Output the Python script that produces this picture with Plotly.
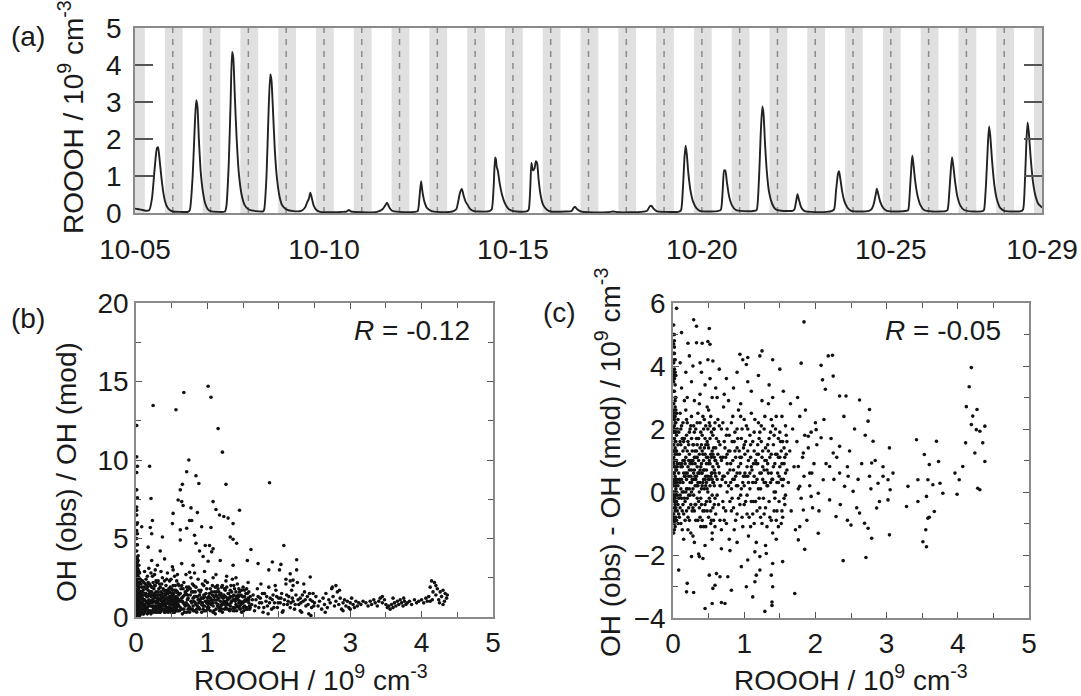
import plotly.graph_objects as go

# ---------------- data ----------------
# (a) ROOOH time series: days since 10-05 00:00, values in 1e9 cm-3
a_t = [0.00, 0.10, 0.20, 0.30, 0.38, 0.45, 0.52, 0.58, 0.61, 0.65, 0.70, 0.75, 0.80, 0.86, 0.92, 1.00, 1.20, 1.40,
       1.45, 1.52, 1.58, 1.62, 1.65, 1.69, 1.74, 1.80, 1.86, 1.93, 2.00, 2.20, 2.38,
       2.42, 2.48, 2.53, 2.57, 2.60, 2.64, 2.69, 2.75, 2.82, 2.90, 3.00, 3.20, 3.40,
       3.42, 3.48, 3.53, 3.58, 3.61, 3.65, 3.70, 3.76, 3.83, 3.90, 4.00, 4.20, 4.40,
       4.50, 4.56, 4.60, 4.64, 4.68, 4.73, 4.80, 4.90, 5.20, 5.50,
       5.60, 5.66, 5.72, 6.00, 6.40, 6.55,
       6.62, 6.67, 6.73, 6.80, 7.00, 7.40,
       7.48, 7.53, 7.57, 7.61, 7.66, 7.73, 7.85, 8.00, 8.40,
       8.50, 8.56, 8.60, 8.65, 8.70, 8.75, 8.80, 8.86, 8.95, 9.10, 9.38,
       9.44, 9.49, 9.53, 9.55, 9.57, 9.60, 9.65, 9.71, 9.78, 9.86, 9.95, 10.10, 10.38,
       10.42, 10.46, 10.49, 10.53, 10.57, 10.61, 10.64, 10.68, 10.73, 10.80, 10.90, 11.00, 11.40,
       11.55, 11.60, 11.64, 11.70, 11.80, 12.00, 12.50, 12.66, 12.80, 13.40,
       13.55, 13.62, 13.66, 13.72, 13.80, 14.00, 14.40,
       14.45, 14.50, 14.54, 14.57, 14.60, 14.64, 14.70, 14.77, 14.85, 14.95, 15.20, 15.42,
       15.50, 15.55, 15.59, 15.62, 15.66, 15.72, 15.80, 15.90, 16.10, 16.40,
       16.45, 16.51, 16.56, 16.60, 16.63, 16.67, 16.72, 16.78, 16.86, 16.95, 17.10, 17.40,
       17.45, 17.50, 17.53, 17.57, 17.63, 17.72, 17.90, 18.30, 18.45,
       18.50, 18.55, 18.60, 18.63, 18.66, 18.71, 18.77, 18.85, 18.95, 19.20, 19.42,
       19.50, 19.55, 19.60, 19.63, 19.67, 19.72, 19.80, 19.90, 20.20, 20.42,
       20.46, 20.51, 20.55, 20.57, 20.60, 20.64, 20.70, 20.78, 20.88, 21.10, 21.45,
       21.50, 21.55, 21.59, 21.62, 21.65, 21.70, 21.76, 21.84, 21.94, 22.20, 22.45,
       22.47, 22.52, 22.57, 22.60, 22.63, 22.68, 22.74, 22.81, 22.90, 23.00, 23.30, 23.45,
       23.50, 23.55, 23.59, 23.62, 23.65, 23.70, 23.76, 23.83, 23.90, 24.00]
a_v = [0.12, 0.10, 0.08, 0.06, 0.08, 0.40, 1.20, 1.75, 1.78, 1.45, 0.95, 0.55, 0.30, 0.15, 0.08, 0.04, 0.03, 0.03,
       0.08, 0.90, 2.30, 3.05, 2.90, 2.00, 1.10, 0.55, 0.25, 0.10, 0.05, 0.03, 0.04,
       0.20, 1.30, 3.00, 4.35, 4.20, 3.20, 2.00, 1.05, 0.50, 0.22, 0.10, 0.05, 0.05,
       0.10, 1.00, 2.60, 3.75, 3.60, 2.80, 1.70, 0.90, 0.42, 0.20, 0.10, 0.05, 0.06,
       0.15, 0.30, 0.38, 0.55, 0.40, 0.20, 0.08, 0.03, 0.02, 0.03,
       0.04, 0.08, 0.04, 0.02, 0.03, 0.10,
       0.20, 0.28, 0.15, 0.06, 0.03, 0.03,
       0.05, 0.45, 0.86, 0.55, 0.30, 0.13, 0.05, 0.03, 0.04,
       0.10, 0.35, 0.55, 0.65, 0.45, 0.30, 0.22, 0.12, 0.06, 0.04, 0.05,
       0.10, 0.70, 1.50, 1.45, 1.25, 1.15, 0.80, 0.50, 0.28, 0.14, 0.07, 0.04, 0.05,
       0.10, 0.70, 1.35, 1.15, 1.20, 1.40, 1.35, 0.90, 0.50, 0.22, 0.09, 0.04, 0.04,
       0.05, 0.13, 0.17, 0.10, 0.04, 0.02, 0.02, 0.04, 0.02, 0.03,
       0.06, 0.18, 0.20, 0.12, 0.05, 0.03, 0.04,
       0.08, 0.70, 1.50, 1.82, 1.60, 1.10, 0.60, 0.30, 0.14, 0.06, 0.04, 0.05,
       0.08, 0.60, 1.15, 1.15, 0.85, 0.45, 0.20, 0.08, 0.05, 0.06,
       0.08, 0.90, 2.20, 2.88, 2.70, 1.90, 1.10, 0.55, 0.25, 0.10, 0.06, 0.06,
       0.10, 0.35, 0.51, 0.35, 0.15, 0.05, 0.03, 0.03, 0.06,
       0.10, 0.60, 1.05, 1.13, 0.95, 0.60, 0.32, 0.15, 0.06, 0.04, 0.06,
       0.12, 0.25, 0.50, 0.66, 0.50, 0.30, 0.13, 0.06, 0.04, 0.06,
       0.08, 0.70, 1.35, 1.55, 1.30, 0.90, 0.50, 0.22, 0.08, 0.04, 0.05,
       0.08, 0.60, 1.20, 1.51, 1.30, 0.85, 0.45, 0.20, 0.08, 0.04, 0.06,
       0.10, 0.80, 1.90, 2.34, 2.10, 1.40, 0.75, 0.35, 0.13, 0.06, 0.04, 0.05,
       0.10, 0.90, 2.00, 2.45, 2.20, 1.50, 0.85, 0.45, 0.25, 0.15]

a_tickvals = [0, 5, 10, 15, 20, 24]
a_ticktext = ["10-05", "10-10", "10-15", "10-20", "10-25", "10-29"]
n_days = 24
sunset_day_frac = 0.79   # ~19:00
sunrise_day_frac = 0.26  # ~06:15

# (b) OH(obs)/OH(mod) vs ROOOH
b_points = [
    # near-zero ROOOH strip
    (0.01,0.2),(0.02,0.5),(0.01,0.8),(0.03,1.1),(0.02,1.4),(0.01,1.7),(0.02,2.0),(0.01,2.3),(0.03,2.6),(0.02,2.9),
    (0.01,3.2),(0.02,3.5),(0.01,3.8),(0.03,0.3),(0.04,0.7),(0.03,0.9),(0.04,1.3),(0.05,1.6),(0.04,1.9),(0.03,2.2),
    (0.04,2.5),(0.05,0.4),(0.02,0.1),(0.04,0.15),(0.05,1.0),(0.01,1.2),(0.02,1.0),(0.03,1.8),(0.01,2.6),(0.02,3.1),
    (0.01,4.2),(0.02,4.6),(0.01,5.0),(0.01,5.5),(0.02,6.0),(0.01,6.5),(0.01,7.0),(0.02,7.6),(0.01,8.1),(0.01,9.2),
    (0.02,9.6),(0.01,10.2),(0.01,12.2),(0.03,3.9),(0.04,3.3),(0.05,2.8),(0.06,0.6),(0.06,1.5),(0.07,2.1),(0.06,0.2),
    (0.02,0.7),(0.03,1.5),(0.01,0.4),(0.02,2.4),(0.03,0.05),(0.05,0.1),(0.01,1.0),(0.04,2.9),(0.02,3.7),(0.01,6.8),
    (0.01,0.3),(0.02,1.2),(0.03,2.0),(0.01,2.9),(0.02,0.9),(0.04,0.5),(0.03,1.3),(0.05,2.2),(0.02,1.6),(0.01,3.4),
    (0.03,0.6),(0.04,1.1),(0.02,2.7),(0.05,0.8),(0.03,3.0),(0.06,1.3),(0.07,0.9),(0.06,2.4),(0.07,0.3),(0.08,1.4),
    (0.01,0.6),(0.02,1.8),(0.03,0.4),(0.01,1.4),(0.04,1.7),(0.02,2.2),(0.03,2.8),(0.01,2.0),(0.04,0.3),(0.05,1.3),
    (0.02,0.3),(0.03,1.0),(0.01,3.0),(0.04,2.1),(0.05,0.6),(0.02,3.3),(0.03,3.6),(0.01,4.6),(0.02,5.3),(0.01,5.9),
    # dense cloud 0.05-0.6
    (0.08,0.5),(0.09,1.2),(0.1,0.8),(0.11,1.9),(0.12,0.3),(0.13,1.5),(0.14,2.4),(0.15,0.9),(0.16,0.6),(0.17,1.7),
    (0.18,1.1),(0.19,2.1),(0.2,0.4),(0.21,1.3),(0.22,0.7),(0.23,2.6),(0.24,1.0),(0.25,1.8),(0.26,0.5),(0.27,1.4),
    (0.28,0.9),(0.29,2.2),(0.3,0.6),(0.31,1.6),(0.32,1.1),(0.33,0.3),(0.34,1.9),(0.35,0.8),(0.36,1.3),(0.37,2.5),
    (0.38,0.5),(0.39,1.0),(0.4,1.7),(0.41,0.7),(0.42,2.0),(0.43,1.2),(0.44,0.4),(0.45,1.5),(0.46,0.9),(0.47,2.3),
    (0.48,0.6),(0.49,1.1),(0.5,1.8),(0.51,0.3),(0.52,1.4),(0.53,0.8),(0.54,2.6),(0.55,1.0),(0.56,0.5),(0.57,1.6),
    (0.58,1.2),(0.59,2.1),(0.6,0.7),
    (0.07,1.6),(0.09,2.3),(0.1,0.2),(0.12,1.1),(0.13,0.7),(0.15,2.0),(0.16,1.3),(0.18,0.4),(0.19,0.9),(0.21,2.8),
    (0.22,1.6),(0.24,0.6),(0.25,1.2),(0.27,2.0),(0.28,0.3),(0.3,1.4),(0.31,0.9),(0.33,2.1),(0.34,0.6),(0.36,1.0),
    (0.37,1.5),(0.39,0.4),(0.4,2.3),(0.42,0.8),(0.43,1.6),(0.45,0.6),(0.46,1.2),(0.48,1.9),(0.49,0.5),(0.51,1.3),
    (0.52,0.9),(0.54,1.7),(0.55,0.4),(0.57,2.3),(0.58,0.8),(0.6,1.4),
    (0.08,0.9),(0.11,0.5),(0.14,1.0),(0.17,0.3),(0.2,1.0),(0.23,0.4),(0.26,1.0),(0.29,0.7),(0.32,0.5),(0.35,1.2),
    (0.38,0.8),(0.41,1.1),(0.44,0.9),(0.47,0.5),(0.5,0.8),(0.53,1.1),(0.56,0.9),(0.59,0.4),
    (0.12,2.9),(0.18,3.1),(0.26,2.7),(0.35,2.9),(0.44,2.8),(0.52,3.0),(0.58,2.7),(0.16,2.6),(0.3,3.3),
    (0.09,0.3),(0.1,1.4),(0.12,0.6),(0.14,1.8),(0.17,1.0),(0.2,1.6),(0.23,1.1),(0.26,1.5),(0.29,1.2),(0.32,0.8),
    (0.34,1.4),(0.37,1.0),(0.4,0.5),(0.43,0.6),(0.47,1.3),(0.5,1.1),(0.53,0.5),(0.56,1.3),(0.59,1.0),(0.11,1.1),
    (0.06,1.1),(0.07,0.4),(0.08,1.9),(0.09,0.7),(0.1,1.7),(0.11,0.2),(0.12,1.4),(0.13,2.1),(0.14,0.6),(0.15,1.3),
    (0.16,0.2),(0.17,2.2),(0.18,0.8),(0.19,1.5),(0.2,0.7),(0.21,0.2),(0.22,1.9),(0.23,0.9),(0.24,1.4),(0.25,0.3),
    (0.26,2.0),(0.27,0.7),(0.28,1.6),(0.29,0.4),(0.3,1.0),(0.31,2.3),(0.32,1.4),(0.33,0.8),(0.34,0.3),(0.35,1.6),
    (0.36,0.5),(0.37,0.9),(0.38,1.8),(0.39,1.3),(0.4,0.3),(0.41,1.5),(0.42,0.5),(0.43,2.4),(0.44,1.2),(0.45,0.3),
    (0.46,1.8),(0.47,0.8),(0.48,1.3),(0.49,2.4),(0.5,0.4),(0.51,1.7),(0.52,0.6),(0.53,1.5),(0.54,0.3),(0.55,2.0),
    (0.56,1.1),(0.57,0.6),(0.58,1.6),(0.59,0.8),(0.6,2.0),
    (0.06,0.5),(0.07,1.3),(0.08,0.2),(0.09,1.6),(0.1,1.0),(0.11,2.2),(0.12,0.8),(0.13,0.4),(0.14,1.5),(0.15,0.5),
    (0.16,1.9),(0.17,0.7),(0.18,1.4),(0.19,0.3),(0.2,2.0),(0.21,1.0),(0.22,0.3),(0.23,1.4),(0.24,2.2),(0.25,0.7),
    (0.26,1.3),(0.27,0.5),(0.28,2.3),(0.29,1.0),(0.3,0.3),(0.31,1.2),(0.32,1.8),(0.33,0.6),(0.34,1.1),(0.35,0.4),
    (0.36,2.1),(0.37,0.7),(0.38,1.2),(0.39,1.7),(0.4,0.9),(0.41,0.3),(0.42,1.4),(0.43,0.9),(0.44,1.7),(0.45,1.0),
    (0.46,0.4),(0.47,1.6),(0.48,1.0),(0.49,0.3),(0.5,1.5),(0.51,0.9),(0.52,2.0),(0.53,0.3),(0.54,1.2),(0.55,0.7),
    (0.56,1.7),(0.57,1.0),(0.58,0.4),(0.59,1.5),(0.6,1.1),
    # 0.6-1.6
    (0.62,1.0),(0.63,1.8),(0.64,0.5),(0.66,1.3),(0.67,2.2),(0.68,0.8),(0.7,1.5),(0.71,0.3),(0.72,1.1),(0.74,1.9),
    (0.75,0.6),(0.76,1.4),(0.78,0.9),(0.79,2.1),(0.8,1.2),(0.82,0.4),(0.83,1.6),(0.84,0.8),(0.86,1.3),(0.87,2.4),
    (0.88,0.6),(0.9,1.0),(0.91,1.7),(0.92,0.3),(0.94,1.2),(0.95,2.0),(0.96,0.7),(0.98,1.5),(0.99,0.9),(1.0,2.2),
    (1.01,0.5),(1.02,1.3),(1.04,1.8),(1.05,0.8),(1.06,1.1),(1.08,2.5),(1.09,0.4),(1.1,1.6),(1.12,0.9),(1.13,1.3),
    (1.14,2.0),(1.16,0.6),(1.17,1.4),(1.18,1.0),(1.2,1.9),(1.21,0.3),(1.22,1.2),(1.24,0.8),(1.25,1.7),(1.26,2.3),
    (1.28,0.5),(1.29,1.1),(1.3,1.5),(1.32,0.7),(1.33,2.0),(1.34,1.0),(1.36,0.4),(1.37,1.4),(1.38,1.8),(1.4,0.8),
    (1.41,1.2),(1.42,2.1),(1.44,0.6),(1.45,1.6),(1.46,1.0),(1.48,0.3),(1.49,1.3),(1.5,1.9),(1.52,0.7),(1.53,1.1),
    (1.54,1.5),(1.56,0.5),(1.57,2.2),(1.58,0.9),(1.6,1.3),
    (0.65,0.2),(0.69,1.6),(0.73,0.5),(0.77,2.5),(0.81,1.0),(0.85,0.5),(0.89,1.4),(0.93,0.9),(0.97,2.3),(1.0,0.6),
    (1.03,0.9),(1.07,1.4),(1.11,0.2),(1.15,1.8),(1.19,0.7),(1.23,1.4),(1.27,0.9),(1.31,1.2),(1.35,2.4),(1.39,0.6),
    (1.43,1.4),(1.47,0.8),(1.51,1.0),(1.55,1.8),(1.59,0.5),(0.7,2.7),(0.82,2.8),(0.96,2.9),(1.12,2.7),(1.27,2.6),
    (1.4,2.5),(0.66,0.9),(0.72,1.7),(0.8,0.7),(0.88,1.1),(0.94,0.5),(1.02,1.0),(1.08,0.7),(1.14,1.1),(1.2,0.5),
    (1.26,1.0),(1.32,1.3),(1.38,1.1),(1.44,0.9),(1.5,0.6),(1.56,1.1),
    (0.61,0.4),(0.62,1.5),(0.64,2.0),(0.65,1.0),(0.67,0.5),(0.68,1.4),(0.69,0.7),(0.71,1.9),(0.72,0.8),(0.73,1.2),
    (0.75,0.3),(0.76,1.8),(0.77,1.0),(0.79,0.5),(0.8,1.6),(0.81,2.0),(0.83,0.9),(0.84,1.3),(0.85,0.3),(0.87,1.1),
    (0.88,1.7),(0.89,0.5),(0.91,1.2),(0.92,0.8),(0.93,2.1),(0.95,1.4),(0.96,0.4),(0.97,1.0),(0.99,1.8),(1.0,1.2),
    (1.01,0.8),(1.03,1.5),(1.04,0.4),(1.05,1.0),(1.07,2.0),(1.08,0.9),(1.09,1.3),(1.11,1.9),(1.12,0.5),(1.13,1.6),
    (1.15,0.8),(1.16,1.2),(1.17,0.4),(1.19,1.5),(1.2,0.8),(1.21,2.0),(1.23,1.0),(1.24,0.5),(1.25,1.3),(1.27,1.9),
    (1.28,0.8),(1.29,1.5),(1.31,0.4),(1.32,1.7),(1.33,0.9),(1.35,1.3),(1.36,0.6),(1.37,2.0),(1.39,1.0),(1.4,1.6),
    (1.41,0.4),(1.43,1.1),(1.44,1.8),(1.45,0.7),(1.47,1.4),(1.48,0.9),(1.5,1.3),(1.51,0.4),(1.52,1.7),(1.54,1.0),
    (1.55,0.6),(1.57,1.2),(1.58,1.6),(1.59,0.7),
    (0.62,0.6),(0.64,1.2),(0.66,1.8),(0.68,0.3),(0.7,0.9),(0.72,1.4),(0.74,0.7),(0.76,0.5),(0.78,1.6),(0.8,0.4),
    (0.82,1.3),(0.84,1.9),(0.86,0.7),(0.88,0.9),(0.9,1.6),(0.92,1.2),(0.94,0.7),(0.96,1.3),(0.98,0.4),(1.0,1.0),
    (1.02,0.6),(1.04,1.2),(1.06,1.6),(1.08,0.3),(1.1,1.1),(1.12,1.4),(1.14,0.7),(1.16,1.6),(1.18,0.5),(1.2,1.3),
    (1.22,0.9),(1.24,1.8),(1.26,0.6),(1.28,1.2),(1.3,0.8),(1.32,0.5),(1.34,1.6),(1.36,1.1),(1.38,0.4),(1.4,1.3),
    (1.42,0.7),(1.44,1.3),(1.46,0.5),(1.48,1.7),(1.5,0.9),(1.52,1.3),(1.54,0.5),(1.56,1.5),(1.58,1.1),(1.6,0.6),
    # 1.6-2.5
    (1.62,0.8),(1.64,1.4),(1.66,0.4),(1.68,1.1),(1.7,1.8),(1.72,0.6),(1.74,1.2),(1.76,0.9),(1.78,0.3),(1.8,1.5),
    (1.82,1.0),(1.84,0.7),(1.86,1.9),(1.88,1.2),(1.9,0.5),(1.92,1.4),(1.94,0.9),(1.96,1.7),(1.98,0.6),(2.0,1.2),
    (2.02,0.9),(2.04,1.5),(2.06,0.4),(2.08,1.1),(2.1,2.1),(2.12,0.8),(2.14,1.3),(2.16,0.6),(2.18,1.7),(2.2,1.0),
    (2.22,0.5),(2.24,1.4),(2.26,2.2),(2.28,0.8),(2.3,1.2),(2.32,0.3),(2.34,1.0),(2.36,1.6),(2.38,0.7),(2.4,1.3),
    (2.42,0.2),(2.44,1.1),(2.46,0.6),(2.48,1.5),(2.5,0.9),(2.1,2.4),(2.16,2.3),(2.2,2.0),(2.35,2.1),(1.95,2.0),
    (1.75,2.1),(1.85,0.2),(2.05,0.3),(2.3,0.4),(2.45,0.1),
    (1.63,1.1),(1.67,0.7),(1.71,1.3),(1.73,0.9),(1.77,1.5),(1.79,0.6),(1.83,1.3),(1.87,0.9),(1.91,1.1),(1.93,0.6),
    (1.97,1.3),(1.99,0.9),(2.03,1.2),(2.07,0.8),(2.11,1.4),(2.13,1.0),(2.17,0.9),(2.19,1.2),(2.23,0.8),(2.27,1.1),
    (2.31,0.9),(2.33,1.4),(2.37,1.1),(2.41,0.8),(2.43,1.5),(2.47,1.0),(2.49,0.7),
    # 2.5-3.2
    (2.52,1.3),(2.55,0.7),(2.57,1.0),(2.6,0.5),(2.62,1.2),(2.64,0.8),(2.66,1.5),(2.68,0.6),(2.7,1.1),(2.72,0.9),
    (2.74,1.8),(2.76,1.3),(2.78,0.7),(2.8,1.0),(2.82,1.6),(2.84,0.8),(2.86,1.2),(2.88,0.5),(2.9,0.9),(2.92,1.1),
    (2.94,0.7),(2.96,1.0),(2.98,0.6),(3.0,0.9),(3.02,1.2),(3.04,0.8),(3.06,0.6),(3.08,1.0),(3.1,0.7),(3.12,0.9),
    (3.15,0.8),(3.18,1.0),(2.75,1.9),(2.8,2.0),(2.85,1.7),(2.65,0.3),(2.9,0.4),(3.0,0.5),
    # 3.2-4.1
    (3.22,0.9),(3.25,0.7),(3.28,1.0),(3.3,0.8),(3.33,1.1),(3.35,0.9),(3.38,0.7),(3.4,1.0),(3.42,1.2),(3.45,0.9),
    (3.48,1.1),(3.5,0.8),(3.52,0.6),(3.54,0.7),(3.56,0.5),(3.58,0.8),(3.6,0.6),(3.62,0.9),(3.64,0.7),(3.66,1.0),
    (3.68,0.8),(3.7,1.1),(3.72,0.9),(3.74,0.7),(3.76,1.0),(3.78,0.8),(3.8,0.9),(3.83,1.0),(3.86,0.8),(3.9,1.1),
    (3.93,0.9),(3.96,1.0),(4.0,1.1),(4.03,0.9),(4.06,1.2),(4.08,1.0),(3.45,1.3),(3.6,1.2),(3.75,1.2),
    # 4.1-4.4
    (4.1,1.3),(4.12,1.9),(4.14,2.3),(4.16,1.6),(4.18,2.2),(4.2,1.4),(4.22,1.8),(4.24,1.1),(4.26,1.6),(4.28,1.3),
    (4.3,1.7),(4.32,1.0),(4.33,1.5),(4.35,1.2),(4.36,1.4),(4.15,1.1),(4.25,0.9),(4.3,0.8),(4.2,2.0),(4.12,1.0),
    # scattered high values
    (0.24,13.47),(0.56,13.2),(0.67,14.3),(1.01,14.7),(1.05,14.0),(1.15,12.0),(1.21,10.5),(1.87,8.55),(1.26,8.45),
    (0.74,10.0),(0.71,9.25),(0.84,9.0),(0.88,8.5),(0.19,9.6),(0.21,7.55),(0.62,8.1),(0.65,8.45),(0.59,7.45),
    (0.64,7.35),(0.66,7.1),(0.77,6.95),(1.08,7.35),(1.12,6.85),(1.17,6.5),(1.23,6.4),(1.29,6.3),(1.45,6.8),
    (1.36,5.95),(0.86,6.65),(0.75,6.15),(0.78,6.15),(0.52,6.6),(0.51,5.95),(0.23,6.15),(0.08,5.75),(0.2,5.7),
    (0.22,5.3),(0.37,5.1),(0.62,5.55),(0.71,5.65),(0.92,5.75),(1.05,5.7),(0.62,4.9),(0.82,5.2),(0.84,4.7),
    (0.97,4.55),(1.03,4.55),(1.08,4.35),(0.89,4.2),(0.94,3.85),(1.06,4.15),(1.32,5.1),(1.36,4.95),(1.41,4.7),
    (1.61,4.3),(2.07,4.55),(2.25,3.65),(1.71,3.4),(1.91,3.5),(2.03,3.35),(1.86,3.0),(2.01,3.0),(2.25,3.0),
    (2.44,2.55),(2.16,2.75),(2.2,2.35),(1.56,3.6),(1.36,3.3),(1.18,3.6),(1.01,3.55),(0.8,3.3),(0.75,2.85),
    (0.64,3.4),(0.51,3.2),(0.4,3.7),(0.34,4.2),(0.22,3.6),(0.27,3.0),(0.17,4.45),
]
b_x = [p[0] for p in b_points]
b_y = [p[1] for p in b_points]

# (c) OH(obs) - OH(mod) vs ROOOH
c_points = [
    # near-zero strip
    (0.01,-1.3),(0.02,-1.0),(0.01,-0.7),(0.03,-0.4),(0.02,-0.1),(0.01,0.2),(0.03,0.5),(0.02,0.8),(0.01,1.1),(0.03,1.4),
    (0.02,1.7),(0.01,2.0),(0.02,2.3),(0.01,2.6),(0.03,2.9),(0.02,3.2),(0.01,3.5),(0.02,3.8),(0.01,4.1),(0.02,4.4),
    (0.01,4.7),(0.02,5.0),(0.03,-1.1),(0.04,-0.8),(0.03,-0.2),(0.04,0.1),(0.04,0.4),(0.05,0.7),(0.04,1.0),(0.05,1.3),
    (0.04,1.6),(0.03,1.9),(0.04,2.2),(0.05,2.5),(0.03,2.7),(0.04,3.0),(0.03,3.4),(0.02,-0.5),(0.01,-0.2),(0.02,0.3),
    (0.01,0.6),(0.02,1.0),(0.01,1.5),(0.02,2.0),(0.01,2.8),(0.02,3.6),(0.01,4.4),(0.03,4.2),(0.04,3.7),(0.05,-0.3),
    (0.05,0.0),(0.06,0.3),(0.06,-0.6),(0.06,0.9),(0.07,1.5),(0.06,2.0),(0.07,-1.0),(0.07,0.2),(0.08,0.6),(0.08,-0.2),
    (0.01,5.3),(0.02,4.8),(0.03,0.0),(0.02,0.6),(0.03,1.2),(0.02,-0.8),(0.04,-0.1),(0.03,0.8),(0.05,1.8),(0.02,2.5),
    (0.01,0.9),(0.02,1.3),(0.03,2.2),(0.01,-0.9),(0.02,-0.3),(0.03,0.3),(0.04,0.7),(0.02,1.9),(0.01,2.4),(0.03,3.0),
    (0.02,3.9),(0.04,-0.5),(0.05,0.4),(0.03,1.6),(0.04,2.6),(0.01,3.2),(0.02,4.2),(0.05,1.0),(0.03,-0.9),(0.06,-0.1),
    (0.01,0.0),(0.02,0.4),(0.03,-0.6),(0.01,1.3),(0.02,2.1),(0.04,1.3),(0.03,2.4),(0.01,3.7),(0.02,-1.2),(0.04,0.2),
    (0.03,3.8),(0.02,4.6),(0.01,5.0),(0.05,-0.9),(0.04,1.9),
    # 0.08-0.6
    (0.09,1.2),(0.1,-0.5),(0.11,0.8),(0.12,2.1),(0.13,-1.2),(0.14,0.3),(0.15,1.6),(0.16,-0.2),(0.17,0.9),(0.18,2.6),
    (0.19,0.1),(0.2,1.3),(0.21,-0.8),(0.22,0.5),(0.23,1.9),(0.24,-0.1),(0.25,1.0),(0.26,2.4),(0.27,0.4),(0.28,-1.4),
    (0.29,1.5),(0.3,0.7),(0.31,-0.4),(0.32,2.0),(0.33,0.2),(0.34,1.1),(0.35,-0.9),(0.36,0.6),(0.37,2.8),(0.38,1.4),
    (0.39,-0.2),(0.4,0.9),(0.41,1.8),(0.42,-0.6),(0.43,0.4),(0.44,2.3),(0.45,1.2),(0.46,-1.1),(0.47,0.7),(0.48,1.6),
    (0.49,0.0),(0.5,2.6),(0.51,1.0),(0.52,-0.3),(0.53,0.5),(0.54,1.9),(0.55,-1.5),(0.56,0.8),(0.57,1.4),(0.58,0.2),
    (0.59,2.2),(0.6,-0.7),
    (0.09,0.4),(0.1,2.5),(0.11,-1.0),(0.12,0.9),(0.13,1.7),(0.14,-0.4),(0.15,0.6),(0.16,2.9),(0.17,-0.9),(0.18,1.1),
    (0.19,0.4),(0.2,2.2),(0.21,0.8),(0.22,-0.5),(0.23,1.2),(0.24,0.3),(0.25,-1.3),(0.26,1.7),(0.27,0.9),(0.28,0.1),
    (0.29,2.1),(0.3,-0.6),(0.31,1.3),(0.32,0.4),(0.33,1.7),(0.34,-0.2),(0.35,2.5),(0.36,1.0),(0.37,-0.5),(0.38,0.3),
    (0.39,1.9),(0.4,0.6),(0.41,-0.9),(0.42,1.2),(0.43,2.0),(0.44,0.1),(0.45,-0.4),(0.46,1.5),(0.47,0.3),(0.48,2.7),
    (0.49,1.1),(0.5,-0.8),(0.51,0.4),(0.52,1.7),(0.53,2.4),(0.54,0.6),(0.55,-0.1),(0.56,1.2),(0.57,-0.9),(0.58,2.0),
    (0.59,0.6),(0.6,1.4),
    (0.1,1.6),(0.13,0.0),(0.16,1.0),(0.19,-0.6),(0.22,1.5),(0.25,0.5),(0.28,1.0),(0.31,0.2),(0.34,0.8),(0.37,1.2),
    (0.4,0.1),(0.43,1.0),(0.46,0.5),(0.49,2.0),(0.52,0.9),(0.55,1.3),(0.58,-0.4),(0.12,3.3),(0.2,3.0),(0.26,3.5),
    (0.3,2.9),(0.38,3.1),(0.45,3.4),(0.55,3.0),(0.6,3.3),(0.15,-1.5),(0.3,-1.6),(0.45,-1.7),(0.55,-1.3),(0.62,3.0),
    (0.18,3.8),(0.1,4.1),(0.28,4.0),(0.4,3.8),(0.52,3.6),
    (0.11,0.1),(0.14,1.3),(0.17,0.5),(0.2,-0.2),(0.23,0.7),(0.26,0.0),(0.29,0.4),(0.32,1.1),(0.35,0.3),(0.38,-0.8),
    (0.41,0.6),(0.44,1.4),(0.47,-0.3),(0.5,0.4),(0.53,-0.6),(0.56,0.3),(0.59,1.0),
    (0.06,1.2),(0.07,-0.4),(0.08,1.9),(0.09,-0.8),(0.1,0.3),(0.11,1.5),(0.12,-0.2),(0.13,0.8),(0.14,2.2),(0.15,-0.7),
    (0.16,0.5),(0.17,1.4),(0.18,0.0),(0.19,1.8),(0.2,0.6),(0.21,-1.2),(0.22,1.0),(0.23,0.1),(0.24,2.0),(0.25,-0.4),
    (0.26,0.7),(0.27,1.3),(0.28,-0.5),(0.29,0.6),(0.3,1.9),(0.31,0.9),(0.32,-0.9),(0.33,0.5),(0.34,1.5),(0.35,0.2),
    (0.36,-0.3),(0.37,0.6),(0.38,2.2),(0.39,0.8),(0.4,-0.4),(0.41,1.3),(0.42,0.3),(0.43,-1.1),(0.44,0.7),(0.45,1.7),
    (0.46,0.2),(0.47,1.1),(0.48,-0.6),(0.49,0.5),(0.5,1.4),(0.51,-0.2),(0.52,2.1),(0.53,1.2),(0.54,-0.9),(0.55,0.6),
    (0.56,1.8),(0.57,0.3),(0.58,1.1),(0.59,-0.2),(0.6,0.5),
    (0.06,0.8),(0.07,2.3),(0.08,-0.7),(0.09,0.9),(0.1,-0.1),(0.11,2.0),(0.12,0.4),(0.13,-0.6),(0.14,1.0),(0.15,0.0),
    (0.16,1.7),(0.17,-0.3),(0.18,0.6),(0.19,2.3),(0.2,0.1),(0.21,1.6),(0.22,-0.1),(0.23,-0.9),(0.24,0.9),(0.25,2.1),
    (0.26,0.3),(0.27,-0.6),(0.28,1.5),(0.29,-0.1),(0.3,1.1),(0.31,0.5),(0.32,-0.4),(0.33,1.3),(0.34,2.2),(0.35,0.6),
    (0.36,1.7),(0.37,0.0),(0.38,0.7),(0.39,-1.1),(0.4,1.5),(0.41,0.2),(0.42,2.4),(0.43,0.7),(0.44,-0.6),(0.45,0.4),
    (0.46,2.1),(0.47,0.9),(0.48,0.1),(0.49,1.5),(0.5,0.9),(0.51,2.2),(0.52,0.2),(0.53,-1.0),(0.54,1.1),(0.55,0.4),
    (0.56,-0.5),(0.57,2.0),(0.58,0.7),(0.59,-1.1),(0.6,1.0),
    # 0.6-1.6
    (0.62,0.9),(0.63,2.3),(0.64,-0.4),(0.66,1.5),(0.67,0.2),(0.68,-1.2),(0.7,1.1),(0.71,2.7),(0.72,0.5),(0.74,-0.6),
    (0.75,1.8),(0.76,0.0),(0.78,1.3),(0.79,-1.5),(0.8,0.7),(0.82,2.2),(0.83,-0.2),(0.84,1.0),(0.86,0.4),(0.87,1.9),
    (0.88,-0.9),(0.9,1.4),(0.91,0.2),(0.92,2.6),(0.94,-0.4),(0.95,0.9),(0.96,1.7),(0.98,-1.1),(0.99,0.5),(1.0,2.3),
    (1.01,1.2),(1.02,-0.3),(1.04,0.8),(1.05,2.0),(1.06,-1.4),(1.08,0.1),(1.09,1.5),(1.1,2.5),(1.12,-0.7),(1.13,0.9),
    (1.14,1.9),(1.16,0.3),(1.17,-1.6),(1.18,1.2),(1.2,2.2),(1.21,-0.2),(1.22,0.6),(1.24,1.6),(1.25,-1.0),(1.26,0.4),
    (1.28,2.0),(1.29,1.0),(1.3,-0.5),(1.32,0.7),(1.33,1.5),(1.34,2.8),(1.36,-0.8),(1.37,0.3),(1.38,1.2),(1.4,-1.3),
    (1.41,0.8),(1.42,1.8),(1.44,0.0),(1.45,2.4),(1.46,-0.6),(1.48,1.1),(1.49,0.5),(1.5,1.9),(1.52,-1.0),(1.53,0.9),
    (1.54,0.2),(1.56,1.4),(1.57,-0.4),(1.58,2.1),(1.6,0.7),
    (0.63,1.2),(0.65,0.6),(0.68,2.0),(0.7,-0.3),(0.73,1.4),(0.76,0.9),(0.78,2.9),(0.81,0.3),(0.83,1.6),(0.85,-0.5),
    (0.88,1.1),(0.9,0.6),(0.93,1.3),(0.95,-0.1),(0.97,2.0),(1.0,0.2),(1.02,1.6),(1.05,0.5),(1.07,-0.8),(1.09,1.1),
    (1.11,0.7),(1.14,1.3),(1.16,-0.3),(1.19,0.9),(1.21,1.7),(1.23,0.1),(1.26,1.3),(1.28,-0.7),(1.31,1.0),(1.33,0.2),
    (1.35,1.7),(1.38,0.6),(1.4,2.1),(1.43,-0.2),(1.46,1.2),(1.48,0.3),(1.51,1.6),(1.53,-0.6),(1.56,0.9),(1.59,1.2),
    (0.72,3.1),(0.85,3.3),(0.95,2.8),(1.1,3.2),(1.25,2.9),(1.4,3.0),(1.55,3.2),(0.68,-1.8),(0.9,-1.6),(1.15,-1.9),
    (1.3,-1.7),(1.45,-1.5),(0.75,3.6),(0.9,3.8),(1.05,3.5),(1.2,3.7),(1.35,3.4),(1.5,3.9),(0.65,3.9),
    (0.61,1.7),(0.62,-0.1),(0.64,0.8),(0.65,2.1),(0.66,-0.9),(0.67,1.1),(0.69,0.4),(0.7,2.2),(0.71,-0.5),(0.72,1.6),
    (0.74,0.3),(0.75,-1.0),(0.76,1.2),(0.77,0.6),(0.79,1.8),(0.8,-0.3),(0.81,0.9),(0.82,0.1),(0.84,2.4),(0.85,0.7),
    (0.86,-1.2),(0.87,1.3),(0.89,0.2),(0.9,-0.7),(0.91,1.7),(0.92,0.8),(0.94,1.1),(0.95,2.4),(0.96,0.1),(0.97,-0.8),
    (0.99,1.4),(1.0,-0.4),(1.01,0.6),(1.03,2.1),(1.04,-0.1),(1.05,1.3),(1.06,0.3),(1.08,1.8),(1.09,-1.1),(1.1,0.8),
    (1.12,1.6),(1.13,-0.3),(1.14,0.5),(1.15,2.3),(1.17,0.9),(1.18,-0.6),(1.19,1.5),(1.2,0.1),(1.22,1.9),(1.23,-0.8),
    (1.24,0.6),(1.25,1.1),(1.27,-0.2),(1.28,0.7),(1.29,2.4),(1.3,0.3),(1.32,-1.1),(1.33,0.9),(1.34,1.3),(1.35,-0.3),
    (1.37,1.9),(1.38,-0.9),(1.39,0.4),(1.41,1.5),(1.42,0.0),(1.43,0.9),(1.44,2.0),(1.45,-0.9),(1.47,0.6),(1.48,1.7),
    (1.49,-0.3),(1.5,0.8),(1.52,1.3),(1.53,2.4),(1.54,-0.8),(1.55,0.4),(1.57,1.1),(1.58,-0.1),(1.59,1.8),
    (0.62,0.4),(0.64,1.6),(0.66,0.2),(0.68,1.0),(0.7,0.5),(0.72,-0.9),(0.74,1.1),(0.76,2.0),(0.78,0.2),(0.8,1.3),
    (0.82,-0.6),(0.84,0.4),(0.86,1.6),(0.88,0.5),(0.9,2.0),(0.92,-0.2),(0.94,0.6),(0.96,1.1),(0.98,0.3),(1.0,1.5),
    (1.02,0.5),(1.04,-0.7),(1.06,1.0),(1.08,0.6),(1.1,-0.3),(1.12,0.3),(1.14,-1.0),(1.16,1.0),(1.18,0.4),(1.2,1.2),
    (1.22,-0.5),(1.24,2.1),(1.26,0.8),(1.28,0.3),(1.3,1.4),(1.32,0.2),(1.34,0.6),(1.36,1.1),(1.38,2.3),(1.4,0.4),
    (1.42,-0.6),(1.44,1.2),(1.46,0.3),(1.48,-1.1),(1.5,1.1),(1.52,0.4),(1.54,1.6),(1.56,-0.2),(1.58,0.6),(1.6,1.6),
    # 1.6-3.0
    (1.62,0.3),(1.64,1.3),(1.66,-0.6),(1.68,2.0),(1.7,0.8),(1.72,-1.2),(1.74,1.6),(1.76,0.1),(1.78,2.4),(1.8,-0.2),
    (1.82,1.1),(1.84,0.5),(1.86,2.6),(1.88,-0.9),(1.9,1.4),(1.92,0.2),(1.94,1.9),(1.96,-0.5),(1.98,0.9),(2.0,2.2),
    (1.65,2.8),(1.75,3.0),(1.85,1.8),(1.95,0.6),(2.02,1.5),(2.05,-0.6),(2.12,2.3),(2.15,0.9),(2.22,1.7),(2.26,0.4),
    (2.3,1.1),(2.35,-0.4),(2.4,2.4),(2.45,0.8),(2.48,1.3),(2.55,2.0),(2.58,-0.5),(2.65,0.9),(2.7,1.8),(2.78,0.1),
    (2.84,1.0),(2.9,-0.3),(2.95,0.8),(2.6,0.4),(2.45,-0.9),
    # scattered / outer points
    (0.05,5.83),(0.29,5.47),(0.33,5.26),(0.51,5.19),(0.12,5.06),(1.84,5.4),(0.21,4.72),(0.33,4.74),(0.41,4.72),
    (0.49,4.78),(0.52,4.69),(0.23,4.32),(0.38,4.1),(0.49,4.2),(0.56,4.16),(0.94,4.37),(0.98,4.2),(1.03,4.05),
    (1.05,4.27),(1.22,4.32),(1.25,4.48),(1.4,4.2),(1.8,4.09),(2.08,4.02),(2.18,4.32),(2.24,4.34),(2.25,3.68),
    (2.1,3.56),(2.14,3.26),(4.19,3.95),(4.16,3.34),(2.34,3.05),(2.43,3.05),(2.62,2.92),(2.76,2.62),(2.74,2.25),
    (4.12,2.71),(4.27,2.62),(4.21,2.41),(4.19,2.14),(4.26,1.98),(4.38,2.09),(4.31,1.93),(4.11,1.56),(4.24,1.24),
    (4.38,0.97),(4.35,1.56),(3.7,1.61),(3.42,1.66),(3.53,1.19),(3.73,0.97),(3.6,0.87),(3.96,0.6),(4.07,0.81),
    (4.02,0.39),(4.28,0.12),(4.31,0.07),(3.99,-0.07),(3.65,0.23),(3.75,0.28),(3.79,-0.04),(3.44,0.39),(3.58,0.39),
    (3.3,0.18),(3.28,-0.46),(3.44,-0.3),(3.56,-0.14),(3.67,-0.62),(3.58,-0.83),(3.6,-0.8),(3.55,-1.2),(3.51,-1.58),
    (3.56,-1.74),(3.04,1.4),(3.09,0.6),(3.02,0.39),(3.05,0.07),(3.02,-0.25),(3.04,-1.36),(2.81,1.61),(2.79,0.92),
    (2.76,0.5),(2.88,0.28),(2.95,0.5),(2.69,-0.99),(2.74,-1.15),(2.79,-1.47),(2.71,-2.08),(2.39,-2.18),(2.86,-0.51),
    (2.62,-0.67),(2.53,0.02),(2.41,0.18),(2.46,0.5),(2.34,0.6),(2.2,0.81),(2.11,0.39),(2.04,-0.04),(2.2,-0.25),
    (2.29,-0.78),(2.5,-1.05),(2.25,1.24),(2.34,1.45),(2.08,1.72),(2.01,1.98),(1.9,1.77),(1.83,1.24),(1.76,0.81),
    (1.92,0.6),(1.78,0.18),(1.94,-0.14),(1.83,-0.57),(2.04,-1.31),(1.78,-1.1),(1.76,-1.52),(1.85,-1.82),(1.71,-3.22),
    (1.39,-3.49),(1.39,-3.6),(1.29,-3.79),(0.45,-3.7),(0.55,-3.54),(0.68,-3.51),(0.73,-3.54),(0.19,-3.17),
    (0.29,-3.19),(0.08,-2.48),(0.2,-2.9),(0.56,-3.06),(0.59,-2.96),(0.51,-2.64),(0.61,-2.59),(0.66,-2.69),
    (0.77,-2.69),(0.82,-3.12),(1.03,-3.01),(1.12,-3.33),(1.15,-2.85),(1.17,-2.64),(1.22,-2.48),(1.38,-2.64),
    (1.4,-3.01),(0.37,-2.05),(0.36,-1.97),(0.26,-2.05),(0.42,-2.11),(0.8,-1.86),(0.96,-2.37),(1.05,-2.16),
    (1.22,-2.05),(1.31,-1.95),(1.4,-2.27),(1.54,-2.21),
]
c_x = [p[0] for p in c_points]
c_y = [p[1] for p in c_points]

# ---------------- figure ----------------
W, H = 1081, 696
FONT = "Liberation Sans, Arial, sans-serif"
TXT = "#1a1a1a"
FRAME = "#8a8a8a"
FS = 28

def px_x(px):
    return px / W

def px_y(py):
    return 1 - py / H

fig = go.Figure()

fig.add_trace(go.Scatter(x=a_t, y=a_v, mode="lines", line=dict(color="#222222", width=1.9, shape="spline", smoothing=0.6),
                         xaxis="x", yaxis="y", showlegend=False, hoverinfo="skip"))
fig.add_trace(go.Scatter(x=b_x, y=b_y, mode="markers", marker=dict(color="#111111", size=3.6),
                         xaxis="x2", yaxis="y2", showlegend=False))
fig.add_trace(go.Scatter(x=c_x, y=c_y, mode="markers", marker=dict(color="#111111", size=3.6),
                         xaxis="x3", yaxis="y3", showlegend=False))

shapes = []
# night shading
for d in range(-1, n_days):
    x0 = max(d + sunset_day_frac, 0)
    x1 = min(d + 1 + sunrise_day_frac, n_days)
    if x1 > x0:
        shapes.append(dict(type="rect", xref="x", yref="y domain", x0=x0, x1=x1, y0=0, y1=1,
                           fillcolor="#e0e0e0", line=dict(width=0), layer="below"))
# midnight dashed lines
for d in range(1, n_days):
    shapes.append(dict(type="line", xref="x", yref="y domain", x0=d, x1=d, y0=0, y1=1,
                       line=dict(color="#8c8c8c", width=1.5, dash="6px,6px"), layer="below"))

ax_common = dict(showline=True, linecolor=FRAME, linewidth=1.5, mirror="ticks", showgrid=False, zeroline=False,
                 automargin=False, tickfont=dict(family=FONT, size=FS, color=TXT), tickcolor="#555555")

fig.update_layout(
    width=W, height=H, margin=dict(l=0, r=0, t=0, b=0, pad=0), autosize=False,
    paper_bgcolor="white", plot_bgcolor="white",
    font=dict(family=FONT, size=FS, color=TXT),
    shapes=shapes,
    xaxis=dict(domain=[px_x(135), px_x(1042)], anchor="y", range=[0, n_days],
               tickvals=a_tickvals, ticktext=a_ticktext, ticks="", ticklabelstandoff=11, **ax_common),
    yaxis=dict(domain=[px_y(213), px_y(28)], anchor="x", range=[0, 5], tickvals=[0, 1, 2, 3, 4, 5],
               ticks="inside", ticklen=18, tickwidth=1.5, ticklabelstandoff=6, **ax_common),
    xaxis2=dict(domain=[px_x(136), px_x(493)], anchor="y2", range=[0, 5], dtick=1,
                ticks="inside", ticklen=6, tickwidth=1,
                minor=dict(dtick=0.5, ticks="inside", ticklen=5, tickcolor="#555555"), **ax_common),
    yaxis2=dict(domain=[px_y(617), px_y(303)], anchor="x2", range=[0, 20], dtick=5,
                ticks="inside", ticklen=6, tickwidth=1,
                minor=dict(dtick=2.5, ticks="inside", ticklen=5, tickcolor="#555555"), **ax_common),
    xaxis3=dict(domain=[px_x(673), px_x(1029)], anchor="y3", range=[0, 5], dtick=1,
                ticks="inside", ticklen=6, tickwidth=1,
                minor=dict(dtick=0.5, ticks="inside", ticklen=5, tickcolor="#555555"), **ax_common),
    yaxis3=dict(domain=[px_y(618), px_y(303)], anchor="x3", range=[-4, 6], dtick=2,
                ticks="inside", ticklen=6, tickwidth=1,
                minor=dict(dtick=1, ticks="inside", ticklen=5, tickcolor="#555555"), **ax_common),
)

ann = []
def add_text(text, x, y, xanchor="center", angle=0):
    ann.append(dict(text=text, x=px_x(x), y=px_y(y), xref="paper", yref="paper", xanchor=xanchor, yanchor="middle",
                    textangle=angle, showarrow=False, font=dict(family=FONT, size=FS, color=TXT)))

add_text("(a)", 28, 37)
add_text("(b)", 28, 319)
add_text("(c)", 559, 312)
add_text("ROOOH / 10<sup>9</sup> cm<sup>-3</sup>", 71, 117, angle=-90)
add_text("OH (obs) / OH (mod)", 67, 472, angle=-90)
add_text("OH (obs) - OH (mod) / 10<sup>9</sup> cm<sup>-3</sup>", 608, 463, angle=-90)
add_text("ROOOH / 10<sup>9</sup> cm<sup>-3</sup>", 311, 678)
add_text("ROOOH / 10<sup>9</sup> cm<sup>-3</sup>", 851, 678)
add_text("<i>R</i> = -0.12", 472, 330, xanchor="right")
add_text("<i>R</i> = -0.05", 1003, 330, xanchor="right")
fig.update_layout(annotations=ann)

fig.write_html("out.html")
